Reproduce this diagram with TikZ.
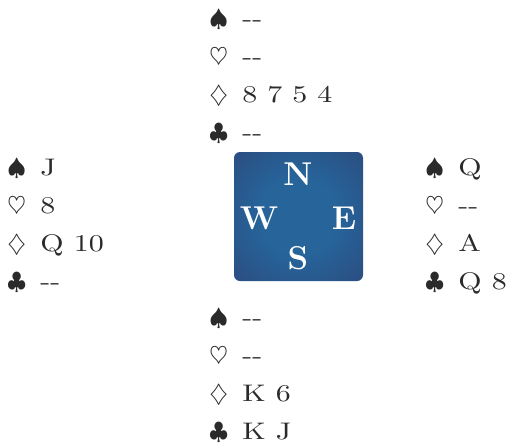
\documentclass[tikz,border=0pt]{standalone}
\usepackage{fontspec}
\newfontfamily\cardfont{lmroman10-regular}[Extension=.otf, FakeStretch=1.25]
\usetikzlibrary{positioning}
\definecolor{ink}{HTML}{2A2A2A}
\definecolor{feltin}{HTML}{26649A}
\definecolor{feltout}{HTML}{30386A}
\pgfdeclareradialshading{compass}{\pgfpointorigin}{%
  color(0bp)=(feltin); color(15bp)=(feltin); color(55bp)=(feltout); color(72bp)=(feltout)}
\tikzset{
  card/.style={anchor=base west, inner sep=0pt, text=ink, font=\cardfont\fontsize{12}{14}\selectfont},
  seat/.style={text=white, inner sep=0pt, font=\bfseries\fontsize{16.5}{16}\selectfont},
  felt/.style={shading=compass, rounded corners=3pt, minimum size=64.5pt, inner sep=0pt},
}
% one hand: name, x, first baseline, list of suit/cards
\newcommand\hand[4]{%
  \foreach \suitsym/\cards [count=\i from 0] in {#4}
    \node[card] (#1\i) at (#2, #3+38.3*\i) {$\suitsym$\hspace{7.2pt}\cards};
}

\begin{document}
\begin{tikzpicture}[x=0.5pt, y=-0.5pt]
  \useasboundingbox (0,0) rectangle (510,445);
  % table
  \node[felt] (table) at (298.5,216.5) {};
  \node[seat] (n) at (298,174) {N};
  \node[seat] (w) at (259,218) {W};
  \node[seat] (e) at (344,218) {E};
  \node[seat] (s) at (298,258) {S};
  % hands
  \hand{north}{209}{26}{\spadesuit/-{}-, \heartsuit/-{}-, \diamondsuit/8 7 5 4, \clubsuit/-{}-}
  \hand{west}{7}{175}{\spadesuit/J, \heartsuit/8, \diamondsuit/Q 10, \clubsuit/-{}-}
  \hand{east}{425}{175}{\spadesuit/Q, \heartsuit/-{}-, \diamondsuit/A, \clubsuit/Q 8}
  \hand{south}{209}{325}{\spadesuit/-{}-, \heartsuit/-{}-, \diamondsuit/K 6, \clubsuit/K J}
\end{tikzpicture}
\end{document}
